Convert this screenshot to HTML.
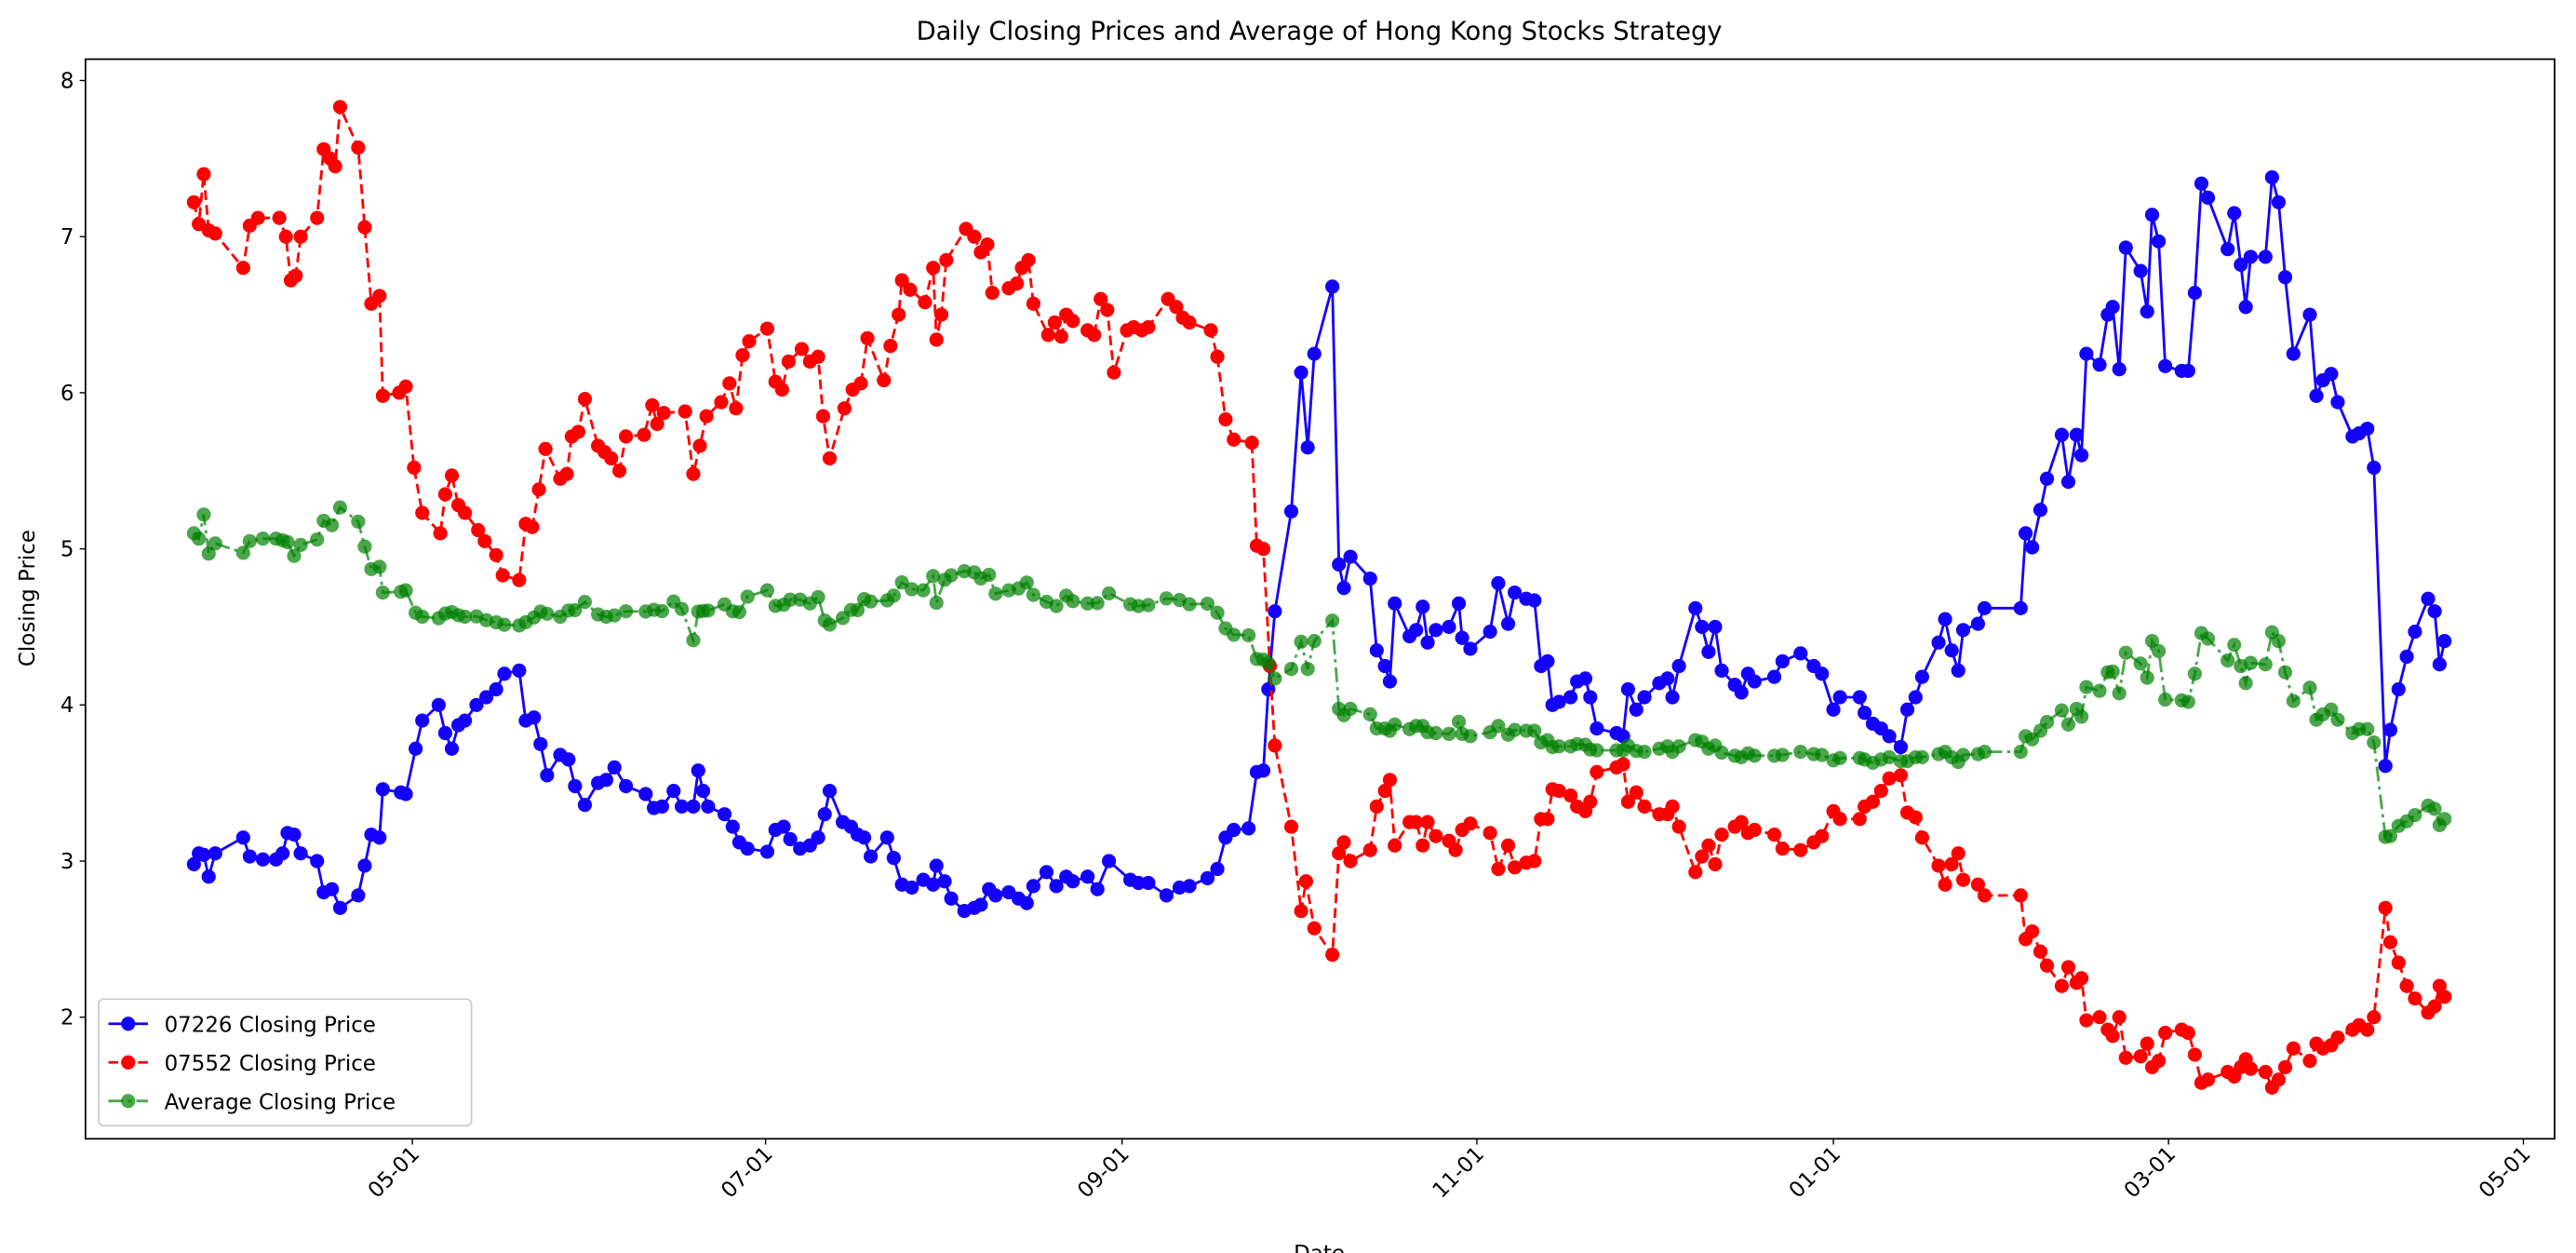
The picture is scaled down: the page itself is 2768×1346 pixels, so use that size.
<!DOCTYPE html>
<html><head><meta charset="utf-8"><style>
html,body{margin:0;padding:0;background:#fff;}
svg{display:block;}
text{font-family:"DejaVu Sans","Liberation Sans",sans-serif;fill:#000;}
</style></head><body>
<svg id="s" width="2768" height="1346" viewBox="0 0 1568 762.5" xmlns="http://www.w3.org/2000/svg">
<rect x="0" y="0" width="1568" height="762.5" fill="#fff"/>
<g id="plot"></g>
<rect x="52" y="36" width="1503" height="657" fill="none" stroke="#000" stroke-width="1"/>
<text x="803" y="24" font-size="15.5" text-anchor="middle">Daily Closing Prices and Average of Hong Kong Stocks Strategy</text>
<text transform="translate(21,364) rotate(-90)" font-size="13" text-anchor="middle">Closing Price</text>
<text x="803" y="767" font-size="13" text-anchor="middle">Date</text>
<g id="axes"></g>
<g>
<rect x="60" y="608" width="227" height="77" rx="3" fill="#fff" fill-opacity="0.8" stroke="#ccc" stroke-width="1"/>
<line x1="66" y1="623" x2="90" y2="623" stroke="#1400ff" stroke-width="1.6"/>
<circle cx="78" cy="623" r="4.3" fill="#1400ff"/>
<text x="100" y="628" font-size="13">07226 Closing Price</text>
<line x1="66" y1="646.5" x2="90" y2="646.5" stroke="#ff0000" stroke-width="1.6" stroke-dasharray="6,3"/>
<circle cx="78" cy="646.5" r="4.3" fill="#ff0000"/>
<text x="100" y="651.5" font-size="13">07552 Closing Price</text>
<line x1="66" y1="670" x2="90" y2="670" stroke="#008000" stroke-opacity="0.7" stroke-width="1.6" stroke-dasharray="9,3,2,3"/>
<circle cx="78" cy="670" r="4.3" fill="#008000" fill-opacity="0.7"/>
<text x="100" y="675" font-size="13">Average Closing Price</text>
</g>
</svg>
<script>
var B=[118,2.98,121,3.05,124,3.04,127,2.9,131,3.05,148,3.15,152,3.03,160,3.01,168,3.01,172,3.05,175,3.18,179,3.17,183,3.05,193,3.0,197,2.8,202,2.82,207,2.7,218,2.78,222,2.97,226,3.17,231,3.15,233,3.46,244,3.44,247,3.43,253,3.72,257,3.9,267,4.0,271,3.82,275,3.72,279,3.87,283,3.9,290,4.0,296,4.05,302,4.1,307,4.2,316,4.22,320,3.9,325,3.92,329,3.75,333,3.55,341,3.68,346,3.65,350,3.48,356,3.36,364,3.5,369,3.52,374,3.6,381,3.48,393,3.43,398,3.34,403,3.35,410,3.45,415,3.35,422,3.35,425,3.58,428,3.45,431,3.35,441,3.3,446,3.22,450,3.12,455,3.08,467,3.06,472,3.2,477,3.22,481,3.14,487,3.08,493,3.1,498,3.15,502,3.3,505,3.45,513,3.25,518,3.22,522,3.17,526,3.15,530,3.03,540,3.15,544,3.02,549,2.85,555,2.83,562,2.88,568,2.85,570,2.97,575,2.87,579,2.76,587,2.68,593,2.7,597,2.72,602,2.82,606,2.78,614,2.8,620,2.76,625,2.73,629,2.84,637,2.93,643,2.84,649,2.9,653,2.87,662,2.9,668,2.82,675,3.0,688,2.88,693,2.86,699,2.86,710,2.78,718,2.83,724,2.84,735,2.89,741,2.95,746,3.15,751,3.2,760,3.21,765,3.57,769,3.58,772,4.1,776,4.6,786,5.24,792,6.13,796,5.65,800,6.25,811,6.68,815,4.9,818,4.75,822,4.95,834,4.81,838,4.35,843,4.25,846,4.15,849,4.65,858,4.44,862,4.48,866,4.63,869,4.4,874,4.48,882,4.5,888,4.65,890,4.43,895,4.36,907,4.47,912,4.78,918,4.52,922,4.72,929,4.68,934,4.67,938,4.25,942,4.28,945,4.0,949,4.02,956,4.05,960,4.15,965,4.17,968,4.05,972,3.85,984,3.82,988,3.8,991,4.1,996,3.97,1001,4.05,1010,4.14,1015,4.17,1018,4.05,1022,4.25,1032,4.62,1036,4.5,1040,4.34,1044,4.5,1048,4.22,1056,4.13,1060,4.08,1064,4.2,1068,4.15,1080,4.18,1085,4.28,1096,4.33,1104,4.25,1109,4.2,1116,3.97,1120,4.05,1132,4.05,1135,3.95,1140,3.88,1145,3.85,1150,3.8,1157,3.73,1161,3.97,1166,4.05,1170,4.18,1180,4.4,1184,4.55,1188,4.35,1192,4.22,1195,4.48,1204,4.52,1208,4.62,1230,4.62,1233,5.1,1237,5.01,1242,5.25,1246,5.45,1255,5.73,1259,5.43,1264,5.73,1267,5.6,1270,6.25,1278,6.18,1283,6.5,1286,6.55,1290,6.15,1294,6.93,1303,6.78,1307,6.52,1310,7.14,1314,6.97,1318,6.17,1328,6.14,1332,6.14,1336,6.64,1340,7.34,1344,7.25,1356,6.92,1360,7.15,1364,6.82,1367,6.55,1370,6.87,1379,6.87,1383,7.38,1387,7.22,1391,6.74,1396,6.25,1406,6.5,1410,5.98,1414,6.08,1419,6.12,1423,5.94,1432,5.72,1436,5.74,1441,5.77,1445,5.52,1452,3.61,1455,3.84,1460,4.1,1465,4.31,1470,4.47,1478,4.68,1482,4.6,1485,4.26,1488,4.41];
var R=[118,7.22,121,7.08,124,7.4,127,7.04,131,7.02,148,6.8,152,7.07,157,7.12,170,7.12,174,7.0,177,6.72,180,6.75,183,7.0,193,7.12,197,7.56,201,7.5,204,7.45,207,7.83,218,7.57,222,7.06,226,6.57,231,6.62,233,5.98,243,6.0,247,6.04,252,5.52,257,5.23,268,5.1,271,5.35,275,5.47,279,5.28,283,5.23,291,5.12,295,5.05,302,4.96,306,4.83,316,4.8,320,5.16,324,5.14,328,5.38,332,5.64,341,5.45,345,5.48,348,5.72,352,5.75,356,5.96,364,5.66,368,5.62,372,5.58,377,5.5,381,5.72,392,5.73,397,5.92,400,5.8,404,5.87,417,5.88,422,5.48,426,5.66,430,5.85,439,5.94,444,6.06,448,5.9,452,6.24,456,6.33,467,6.41,472,6.07,476,6.02,480,6.2,488,6.28,493,6.2,498,6.23,501,5.85,505,5.58,514,5.9,519,6.02,524,6.06,528,6.35,538,6.08,542,6.3,547,6.5,549,6.72,554,6.66,563,6.58,568,6.8,570,6.34,573,6.5,576,6.85,588,7.05,593,7.0,597,6.9,601,6.95,604,6.64,614,6.67,619,6.7,622,6.8,626,6.85,629,6.57,638,6.37,642,6.45,646,6.36,649,6.5,653,6.46,662,6.4,666,6.37,670,6.6,674,6.53,678,6.13,686,6.4,690,6.42,695,6.4,699,6.42,711,6.6,716,6.55,720,6.48,724,6.45,737,6.4,741,6.23,746,5.83,751,5.7,762,5.68,765,5.02,769,5.0,773,4.25,776,3.74,786,3.22,792,2.68,795,2.87,800,2.57,811,2.4,815,3.05,818,3.12,822,3.0,834,3.07,838,3.35,843,3.45,846,3.52,849,3.1,858,3.25,862,3.25,866,3.1,869,3.25,874,3.16,882,3.13,886,3.07,890,3.2,895,3.24,907,3.18,912,2.95,918,3.1,922,2.96,929,2.99,934,3.0,938,3.27,942,3.27,945,3.46,949,3.45,956,3.42,960,3.35,965,3.32,968,3.38,972,3.57,984,3.6,988,3.62,991,3.38,996,3.44,1001,3.35,1010,3.3,1015,3.3,1018,3.35,1022,3.22,1032,2.93,1036,3.03,1040,3.1,1044,2.98,1048,3.17,1056,3.22,1060,3.25,1064,3.18,1068,3.2,1080,3.17,1085,3.08,1096,3.07,1104,3.12,1109,3.16,1116,3.32,1120,3.27,1132,3.27,1135,3.35,1140,3.38,1145,3.45,1150,3.53,1157,3.55,1161,3.31,1166,3.28,1170,3.15,1180,2.97,1184,2.85,1188,2.98,1192,3.05,1195,2.88,1204,2.85,1208,2.78,1230,2.78,1233,2.5,1237,2.55,1242,2.42,1246,2.33,1255,2.2,1259,2.32,1264,2.22,1267,2.25,1270,1.98,1278,2.0,1283,1.92,1286,1.88,1290,2.0,1294,1.74,1303,1.75,1307,1.83,1310,1.68,1314,1.72,1318,1.9,1328,1.92,1332,1.9,1336,1.76,1340,1.58,1344,1.6,1356,1.65,1360,1.62,1364,1.68,1367,1.73,1370,1.67,1379,1.65,1383,1.55,1387,1.6,1391,1.68,1396,1.8,1406,1.72,1410,1.83,1414,1.8,1419,1.82,1423,1.87,1432,1.92,1436,1.95,1441,1.92,1445,2.0,1452,2.7,1455,2.48,1460,2.35,1465,2.2,1470,2.12,1478,2.03,1482,2.07,1485,2.2,1488,2.13];
function Y(v){return 49+(8-v)*95;}
function pairs(a){var r=[];for(var i=0;i<a.length;i+=2)r.push([a[i],a[i+1]]);return r;}
var b=pairs(B),r=pairs(R);
function interp(arr,x){for(var i=0;i<arr.length-1;i++){if(x<=arr[i+1][0]){var t=(x-arr[i][0])/(arr[i+1][0]-arr[i][0]);return arr[i][1]+t*(arr[i+1][1]-arr[i][1]);}}return arr[arr.length-1][1];}
var g=b.map(function(p){return [p[0],(p[1]+interp(r,p[0]))/2];});
var ns="http://www.w3.org/2000/svg",plot=document.getElementById("plot");
function series(pts,color,dash,op){
 var d=pts.map(function(p,i){return (i?"L":"M")+p[0]+" "+Y(p[1]).toFixed(1);}).join("");
 var path=document.createElementNS(ns,"path");
 path.setAttribute("d",d);path.setAttribute("fill","none");path.setAttribute("stroke",color);
 path.setAttribute("stroke-width","1.6");if(dash)path.setAttribute("stroke-dasharray",dash);
 path.setAttribute("stroke-opacity",op);plot.appendChild(path);
 pts.forEach(function(p){var c=document.createElementNS(ns,"circle");c.setAttribute("cx",p[0]);c.setAttribute("cy",Y(p[1]).toFixed(1));c.setAttribute("r","4.3");c.setAttribute("fill",color);c.setAttribute("fill-opacity",op);plot.appendChild(c);});
}
series(b,"#1400ff",null,1);
series(r,"#ff0000","6,3",1);
series(g,"#008000","9,3,2,3",0.7);
var ax=document.getElementById("axes"),h="";
for(var v=2;v<=8;v++){var y=Y(v);h+='<line x1="48.5" y1="'+y+'" x2="52" y2="'+y+'" stroke="#000" stroke-width="0.8"/><text x="45" y="'+(y+4.5)+'" font-size="13" text-anchor="end">'+v+'</text>';}
var xt=[[251,"05-01"],[466,"07-01"],[683,"09-01"],[899,"11-01"],[1116,"01-01"],[1320,"03-01"],[1536,"05-01"]];
xt.forEach(function(t){h+='<line x1="'+t[0]+'" y1="693" x2="'+t[0]+'" y2="696.5" stroke="#000" stroke-width="0.8"/><text transform="translate('+(t[0]+5)+',703) rotate(-45)" font-size="13" text-anchor="end">'+t[1]+'</text>';});
ax.innerHTML=h;
</script>
</body></html>
